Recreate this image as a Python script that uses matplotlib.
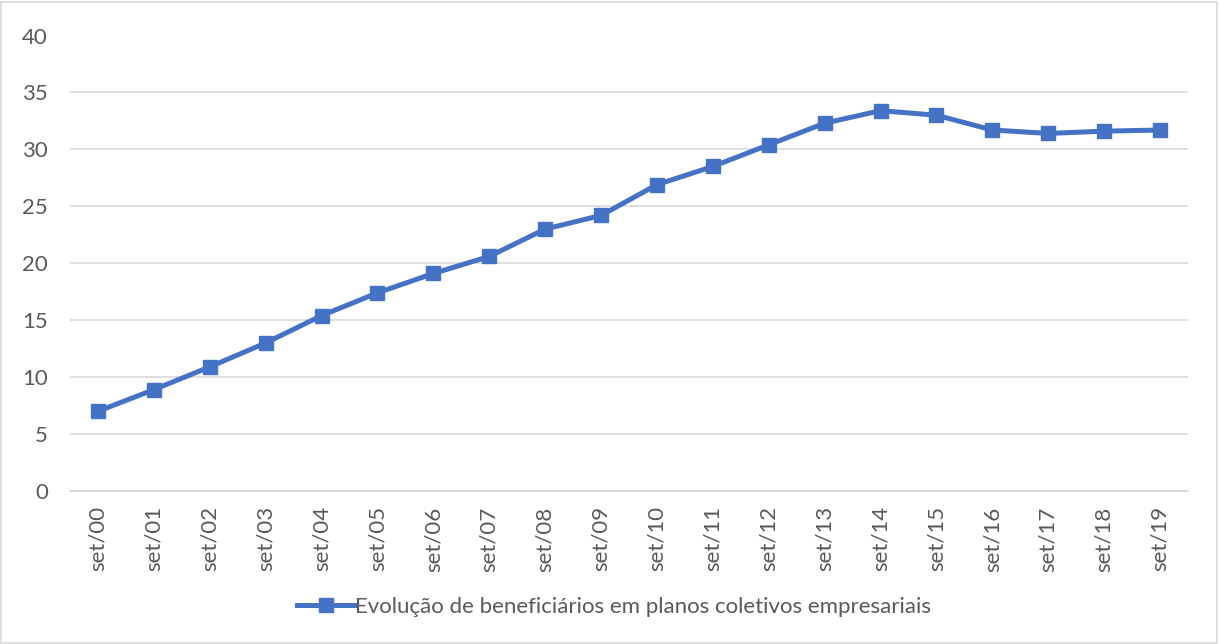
import matplotlib
matplotlib.use("Agg")
import matplotlib.pyplot as plt
from matplotlib.patches import Rectangle

categories = ["set/00", "set/01", "set/02", "set/03", "set/04", "set/05", "set/06",
              "set/07", "set/08", "set/09", "set/10", "set/11", "set/12", "set/13",
              "set/14", "set/15", "set/16", "set/17", "set/18", "set/19"]
values = [7.0, 8.9, 10.9, 13.0, 15.4, 17.4, 19.1, 20.6, 23.0, 24.2, 26.9, 28.5,
          30.4, 32.3, 33.4, 33.0, 31.7, 31.4, 31.6, 31.7]
series_name = "Evolução de beneficiários em planos coletivos empresariais"
yticks = [0, 5, 10, 15, 20, 25, 30, 35, 40]

plt.rcParams['font.family'] = ['Lato', 'DejaVu Sans']
W, H = 1219, 644
fig = plt.figure(figsize=(W / 100, H / 100), dpi=100)
fig.patches.append(Rectangle((1 / W, 1 / H), 1 - 3 / W, 1 - 3 / H, transform=fig.transFigure,
                             fill=False, edgecolor="#d9d9d9", linewidth=1.2))

ax = fig.add_axes([70 / W, 1 - 491 / H, (1188 - 70) / W, (491 - 35.5) / H])
x = list(range(len(categories)))
line, = ax.plot(x, values, color="#4472C4", linewidth=3.6, marker="s", markersize=10.5,
                label=series_name, zorder=3)
ax.set_xlim(-0.5, len(categories) - 0.5)
ax.set_ylim(0, 40)
ax.set_yticks(yticks)
ax.set_xticks(x)
ax.set_xticklabels(categories, rotation=90)
ax.tick_params(axis="both", length=0, labelsize=16, colors="#595959")
ax.tick_params(axis="y", pad=16)
ax.tick_params(axis="x", pad=11)
ax.grid(axis="y", color="#d9d9d9", linewidth=1.2)
ax.set_axisbelow(True)
for s in ["top", "right", "left"]:
    ax.spines[s].set_visible(False)
ax.spines["bottom"].set_color("#d9d9d9")
ax.spines["bottom"].set_linewidth(1.2)

leg = fig.legend(handles=[line], loc="center", bbox_to_anchor=(614 / W, 1 - 607 / H),
                 frameon=False, fontsize=16, handlelength=2.6, handletextpad=0.0,
                 labelcolor="#595959")
fig.savefig("out.png", dpi=100)
